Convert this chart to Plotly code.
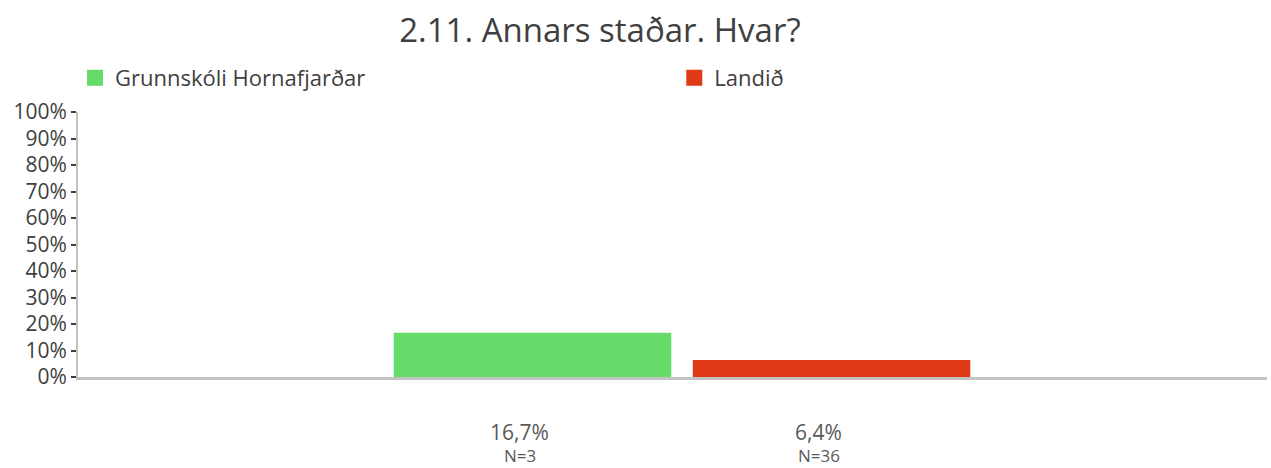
import plotly.graph_objects as go

# Survey question and series
title_text = "2.11. Annars staðar. Hvar?"
categories = [""]
series_names = ["Grunnskóli Hornafjarðar", "Landið"]
series_values = [16.7, 6.4]          # percent
series_counts = [3, 36]              # respondents (N)
series_colors = ["#66DB69", "#DE3A15"]

y_ticks = list(range(0, 101, 10))

FONT = "Open Sans"
TEXT_DARK = "#404040"
TEXT_SOFT = "#595959"
AXIS_GREY = "#C3C3C3"

BARGAP = 0.497
BARGROUPGAP = 0.072

fig = go.Figure()

legend_ids = ["legend", "legend2"]
for name, val, col, lg in zip(series_names, series_values, series_colors, legend_ids):
    fig.add_trace(go.Bar(
        x=categories,
        y=[val / 100],
        name=name,
        marker=dict(color=col, line=dict(width=0)),
        showlegend=False,
        hoverinfo="skip",
    ))
    # larger square swatch for the legend
    fig.add_trace(go.Scatter(
        x=[None], y=[None], mode="markers", name=name,
        marker=dict(symbol="square", size=16, color=col),
        showlegend=True, legend=lg,
    ))

# value / count labels under each bar, placed at the grouped bar centres
slot = (1 - BARGAP) / len(series_names)
annotations = []
for i, (val, n) in enumerate(zip(series_values, series_counts)):
    xc = -(1 - BARGAP) / 2 + slot * (i + 0.5)
    pct = f"{val:.1f}".replace(".", ",") + "%"
    annotations.append(dict(
        x=xc, y=-0.208, xref="x", yref="paper", yanchor="middle",
        text=pct, showarrow=False, xshift=-13,
        font=dict(family=FONT, size=21, color=TEXT_SOFT),
    ))
    annotations.append(dict(
        x=xc, y=-0.296, xref="x", yref="paper", yanchor="middle",
        text=f"N={n}", showarrow=False, xshift=-13,
        font=dict(family=FONT, size=17, color=TEXT_SOFT),
    ))

legend_style = dict(
    orientation="h", xanchor="left",
    yref="container", y=1 - 78 / 468, yanchor="middle",
    font=dict(family=FONT, size=22, color=TEXT_DARK),
    itemsizing="trace", bgcolor="rgba(0,0,0,0)",
)

fig.update_layout(
    width=1271, height=468,
    margin=dict(l=78, r=4, t=112, b=91),
    paper_bgcolor="white", plot_bgcolor="white",
    barmode="group", bargap=BARGAP, bargroupgap=BARGROUPGAP,
    font=dict(family=FONT, color=TEXT_DARK),
    title=dict(
        text=title_text, x=0.472, xanchor="center",
        y=1 - 30 / 468, yanchor="middle",
        font=dict(family=FONT, size=33, color=TEXT_DARK),
    ),
    legend=dict(x=-0.0025, **legend_style),
    legend2=dict(x=0.5015, **legend_style),
    xaxis=dict(
        type="category", range=[-0.508, 0.492],
        showticklabels=False, showgrid=False, zeroline=False,
        showline=True, linecolor=AXIS_GREY, linewidth=3,
        ticks="",
    ),
    yaxis=dict(
        range=[0, 1], tickvals=[t / 100 for t in y_ticks],
        ticktext=[f"{t}%" for t in y_ticks],
        showgrid=False, zeroline=False, automargin=False,
        showline=True, linecolor=AXIS_GREY, linewidth=2,
        ticks="outside", ticklen=5, tickwidth=2, tickcolor=TEXT_DARK,
        tickfont=dict(family=FONT, size=21, color=TEXT_DARK),
    ),
    annotations=annotations,
)

fig.write_html("out.html")
